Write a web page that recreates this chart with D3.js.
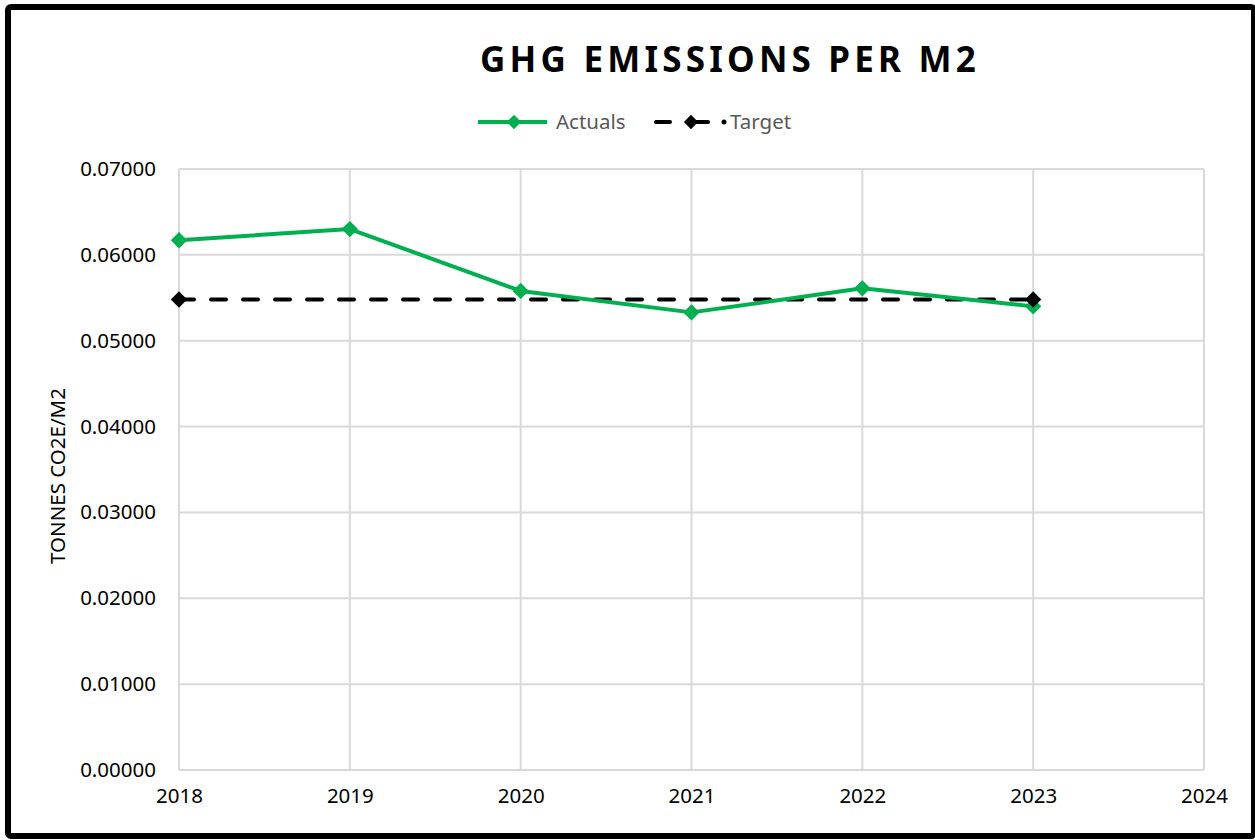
<!DOCTYPE html>
<html>
<head>
<meta charset="utf-8">
<script src="https://cdn.jsdelivr.net/npm/d3@7"></script>
<style>
  body { margin: 0; background: #fff; }
  text { font-family: "Noto Sans", "Open Sans", sans-serif; }
</style>
</head>
<body>
<div id="chart"></div>
<script>
// data
var years = [2018, 2019, 2020, 2021, 2022, 2023, 2024];
var actuals = [0.0617, 0.0630, 0.0558, 0.0533, 0.0561, 0.0540];
var actualYears = [2018, 2019, 2020, 2021, 2022, 2023];
var targetYears = [2018, 2023];
var target = [0.0548, 0.0548];
var yTicks = [0, 0.01, 0.02, 0.03, 0.04, 0.05, 0.06, 0.07];

var green = "#00b050";
var width = 1255;
var height = 840;

var svg = d3.select("#chart").append("svg")
    .attr("width", width)
    .attr("height", height);

// outer frame
svg.append("rect")
    .attr("x", 8)
    .attr("y", 7)
    .attr("width", 1246)
    .attr("height", 829)
    .attr("rx", 3)
    .attr("fill", "white")
    .attr("stroke", "black")
    .attr("stroke-width", 6);

var x = d3.scaleLinear().domain([2018, 2024]).range([179, 1204]);
var y = d3.scaleLinear().domain([0, 0.07]).range([770, 169]);

// gridlines
svg.append("g").selectAll("line.h")
    .data(yTicks)
    .enter().append("line")
    .attr("x1", x(2018)).attr("x2", x(2024))
    .attr("y1", function (d) { return y(d); })
    .attr("y2", function (d) { return y(d); })
    .attr("stroke", "#d9d9d9")
    .attr("stroke-width", 2);

svg.append("g").selectAll("line.v")
    .data(years)
    .enter().append("line")
    .attr("y1", y(0)).attr("y2", y(0.07))
    .attr("x1", function (d) { return x(d); })
    .attr("x2", function (d) { return x(d); })
    .attr("stroke", "#d9d9d9")
    .attr("stroke-width", 2);

// axis labels via d3 axes, lines hidden
var yAxis = svg.append("g")
    .attr("transform", "translate(" + x(2018) + ",0)")
    .call(d3.axisLeft(y).tickValues(yTicks).tickFormat(d3.format(".5f")).tickSize(0).tickPadding(23));
var xAxis = svg.append("g")
    .attr("transform", "translate(0," + y(0) + ")")
    .call(d3.axisBottom(x).tickValues(years).tickFormat(d3.format("d")).tickSize(0).tickPadding(18));

[yAxis, xAxis].forEach(function (a) {
    a.select(".domain").remove();
    a.selectAll("text")
        .attr("font-family", "'Noto Sans', sans-serif")
        .attr("font-size", 20.5)
        .attr("fill", "#000");
});

// y axis title
svg.append("text")
    .attr("transform", "translate(65,476) rotate(-90)")
    .attr("text-anchor", "middle")
    .attr("font-size", 20.5)
    .attr("fill", "#000")
    .text("TONNES CO2E/M2");

// title
svg.append("text")
    .attr("x", 730)
    .attr("y", 72)
    .attr("text-anchor", "middle")
    .attr("font-size", 35)
    .attr("font-weight", "bold")
    .attr("letter-spacing", 4.2)
    .attr("fill", "#000")
    .text("GHG EMISSIONS PER M2");

var diamond = d3.symbol().type(d3.symbolDiamond2).size(170);

// target line
var targetPts = targetYears.map(function (d, i) { return [d, target[i]]; });
svg.append("path")
    .datum(targetPts)
    .attr("d", d3.line().x(function (d) { return x(d[0]); }).y(function (d) { return y(d[1]); }))
    .attr("fill", "none")
    .attr("stroke", "black")
    .attr("stroke-width", 4)
    .attr("stroke-dasharray", "15,17")
    .attr("stroke-linecap", "round");

// actuals line
var actualPts = actualYears.map(function (d, i) { return [d, actuals[i]]; });
svg.append("path")
    .datum(actualPts)
    .attr("d", d3.line().x(function (d) { return x(d[0]); }).y(function (d) { return y(d[1]); }))
    .attr("fill", "none")
    .attr("stroke", green)
    .attr("stroke-width", 4)
    .attr("stroke-linejoin", "round");

svg.append("g").selectAll("path")
    .data(actualPts)
    .enter().append("path")
    .attr("d", diamond)
    .attr("transform", function (d) { return "translate(" + x(d[0]) + "," + y(d[1]) + ")"; })
    .attr("fill", green);

svg.append("g").selectAll("path")
    .data(targetPts)
    .enter().append("path")
    .attr("d", diamond)
    .attr("transform", function (d) { return "translate(" + x(d[0]) + "," + y(d[1]) + ")"; })
    .attr("fill", "black");

// legend
var legendDiamond = d3.symbol().type(d3.symbolDiamond2).size(130);
var legend = svg.append("g").attr("transform", "translate(0,122)");
legend.append("line")
    .attr("x1", 478).attr("x2", 547).attr("y1", 0).attr("y2", 0)
    .attr("stroke", green).attr("stroke-width", 4);
legend.append("path").attr("d", legendDiamond).attr("transform", "translate(514,0)").attr("fill", green);
legend.append("text")
    .attr("x", 556).attr("y", 7)
    .attr("font-size", 20.5).attr("fill", "#595959")
    .text("Actuals");

legend.append("line")
    .attr("x1", 656).attr("x2", 708).attr("y1", 0).attr("y2", 0)
    .attr("stroke", "black").attr("stroke-width", 4)
    .attr("stroke-dasharray", "14,26,24,100").attr("stroke-linecap", "round");
legend.append("path").attr("d", legendDiamond).attr("transform", "translate(691,0)").attr("fill", "black");
legend.append("circle").attr("cx", 724).attr("cy", 0).attr("r", 2.5).attr("fill", "black");
legend.append("text")
    .attr("x", 730).attr("y", 7)
    .attr("font-size", 20.5).attr("fill", "#595959")
    .text("Target");
</script>
</body>
</html>
